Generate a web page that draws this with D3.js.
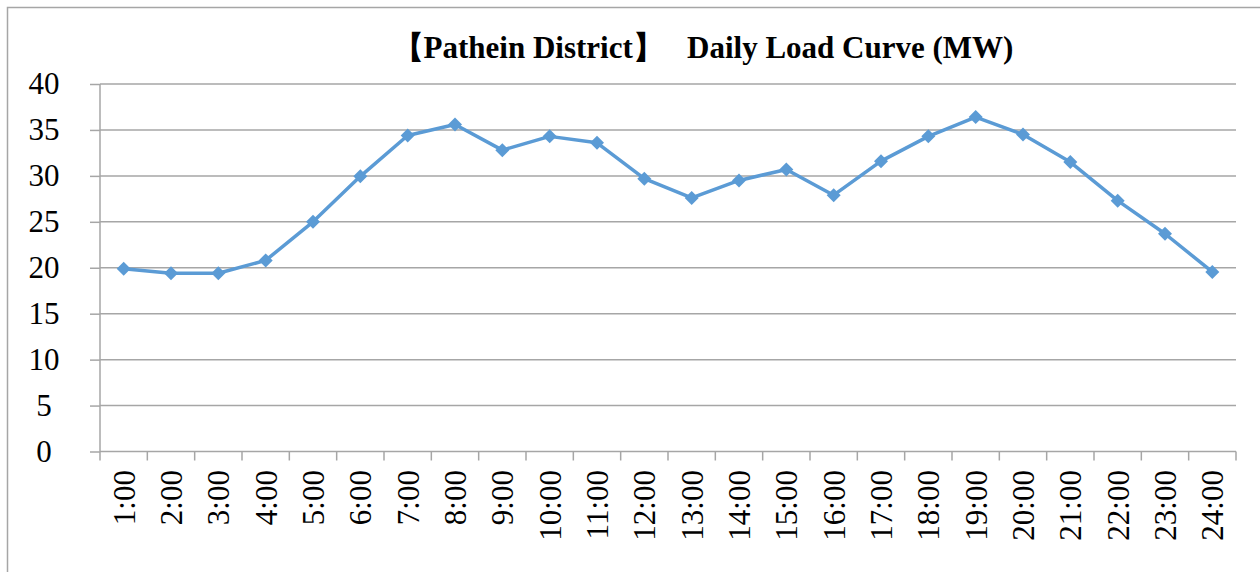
<!DOCTYPE html>
<html>
<head>
<meta charset="utf-8">
<script src="https://cdn.jsdelivr.net/npm/d3@7"></script>
<style>
  body { margin: 0; background: #fff; }
  svg { display: block; }
  text { font-family: "Liberation Serif", "Times New Roman", serif; fill: #000; }
</style>
</head>
<body>
<svg id="chart" width="1260" height="572"></svg>
<script>
// hours of the day
var hours = ['1:00','2:00','3:00','4:00','5:00','6:00','7:00','8:00','9:00','10:00','11:00','12:00',
             '13:00','14:00','15:00','16:00','17:00','18:00','19:00','20:00','21:00','22:00','23:00','24:00'];
// load in MW
var load = [19.9, 19.4, 19.4, 20.8, 25.0, 29.95, 34.4, 35.6, 32.8, 34.3, 33.6, 29.7,
            27.6, 29.5, 30.7, 27.9, 31.6, 34.3, 36.4, 34.5, 31.5, 27.3, 23.7, 19.55];
var yTicks = [0, 5, 10, 15, 20, 25, 30, 35, 40];
var title = '【Pathein District】   Daily Load Curve (MW)';

var svg = d3.select('#chart');
var mLeft = 100, mRight = 1236, mTop = 84, mBottom = 451.5;

// outer frame (runs off the bottom/right of the picture)
svg.append('rect')
  .attr('x', 7.5).attr('y', 7.5)
  .attr('width', 1300).attr('height', 600)
  .attr('fill', 'none')
  .attr('stroke', '#a6a6a6')
  .attr('stroke-width', 1.5);

var x = d3.scaleBand().domain(hours).range([mLeft, mRight]);
var y = d3.scaleLinear().domain([0, 40]).range([mBottom, mTop]);

// gridlines
svg.append('g')
  .selectAll('line')
  .data(yTicks.filter(function (d) { return d > 0; }))
  .enter().append('line')
    .attr('x1', mLeft).attr('x2', mRight)
    .attr('y1', function (d) { return y(d); })
    .attr('y2', function (d) { return y(d); })
    .attr('stroke', '#a6a6a6')
    .attr('stroke-width', 1.5);

// y axis
var yAxis = svg.append('g')
  .attr('transform', 'translate(' + mLeft + ',0)')
  .call(d3.axisLeft(y).tickValues(yTicks).tickSize(10).tickPadding(12));
yAxis.selectAll('line').attr('stroke', '#a6a6a6').attr('stroke-width', 1.5);
yAxis.select('.domain').attr('stroke', '#a6a6a6').attr('stroke-width', 1.5).attr('d', 'M0,' + mTop + 'V' + mBottom);
yAxis.selectAll('text')
  .style('font-size', '31px')
  .style('font-family', '"Liberation Serif", serif')
  .attr('x', -56)
  .attr('text-anchor', 'middle');

// x axis: ticks on band edges
var xg = svg.append('g');
xg.append('line')
  .attr('x1', mLeft).attr('x2', mRight)
  .attr('y1', mBottom).attr('y2', mBottom)
  .attr('stroke', '#a6a6a6').attr('stroke-width', 1.5);
var edges = hours.map(function (h) { return x(h); }).concat([mRight]);
xg.selectAll('line.tk')
  .data(edges)
  .enter().append('line')
    .attr('class', 'tk')
    .attr('x1', function (d) { return d; }).attr('x2', function (d) { return d; })
    .attr('y1', mBottom).attr('y2', mBottom + 9)
    .attr('stroke', '#a6a6a6').attr('stroke-width', 1.5);
xg.selectAll('text')
  .data(hours)
  .enter().append('text')
    .attr('transform', function (d) {
      return 'translate(' + (x(d) + x.bandwidth() / 2) + ',470) rotate(-90)';
    })
    .attr('text-anchor', 'end')
    .attr('dy', '0.35em')
    .style('font-size', '31px')
    .text(function (d) { return d; });

// line + diamond markers
var pts = hours.map(function (h, i) { return [x(h) + x.bandwidth() / 2, y(load[i])]; });
svg.append('path')
  .datum(pts)
  .attr('d', d3.line())
  .attr('fill', 'none')
  .attr('stroke', '#5b9bd5')
  .attr('stroke-width', 3.5)
  .attr('stroke-linejoin', 'round');

svg.append('g')
  .selectAll('path')
  .data(pts)
  .enter().append('path')
    .attr('transform', function (d) { return 'translate(' + d[0] + ',' + d[1] + ')'; })
    .attr('d', 'M0,-7L7,0L0,7L-7,0Z')
    .attr('fill', '#5b9bd5');

// title
svg.append('text')
  .attr('x', 703).attr('y', 58)
  .attr('text-anchor', 'middle')
  .style('font-size', '31px')
  .style('font-weight', 'bold')
  .style('white-space', 'pre')
  .text(title);
</script>
</body>
</html>
